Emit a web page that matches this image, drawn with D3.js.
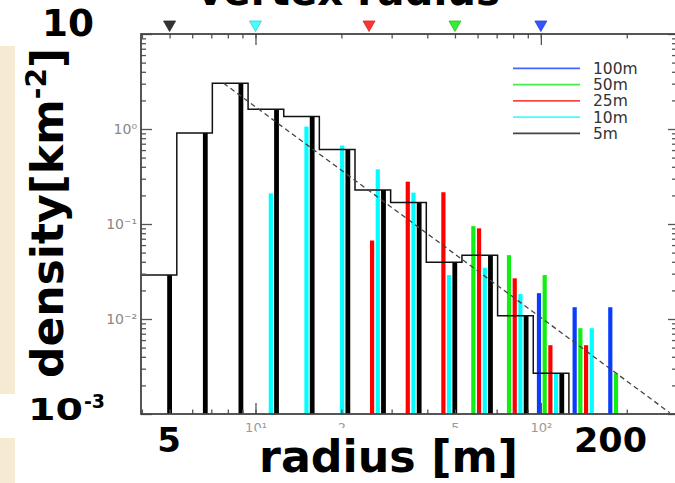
<!DOCTYPE html>
<html>
<head>
<meta charset="utf-8">
<script src="https://cdn.jsdelivr.net/npm/d3@7"></script>
<style>
  html, body { margin: 0; padding: 0; background: #fff; }
  svg { display: block; }
  text { font-family: "DejaVu Sans", sans-serif; }
</style>
</head>
<body>
<script>
// ---------------- DATA ----------------
const radii        = [5.00, 6.67, 8.89, 11.85, 15.80, 21.07, 28.09, 37.46, 49.94, 66.59, 88.79, 118.4, 157.9, 210.5];
const binEdges     = [3.97, 5.30, 7.06, 9.42, 12.56, 16.74, 22.32, 29.76, 39.68, 52.91, 70.54, 94.06, 125.4];
const density5m    = [0.029, 0.91, 3.03, 1.61, 1.35, 0.61, 0.228, 0.168, 0.0395, 0.047, 0.0108, 0.00268, null, null];
const density10m   = [null, null, null, 0.21, 1.06, 0.67, 0.376, 0.214, 0.029, 0.0347, 0.0183, 0.00268, 0.008, null];
const density25m   = [null, null, null, null, null, null, 0.067, 0.279, 0.216, 0.09, 0.0268, 0.0053, 0.0053, null];
const density50m   = [null, null, null, null, null, null, null, null, null, 0.095, 0.047, 0.029, 0.008, 0.00268];
const density100m  = [null, null, null, null, null, null, null, null, null, null, null, 0.0187, 0.0133, 0.0133];
const fitRadius    = [7.73, 283];
const fitDensity   = [3.03, 0.00103];
const seriesNames  = ["100m", "50m", "25m", "10m", "5m"];
const markerRadius = [100, 50, 25, 10, 5];
const xTickValues  = [10, 20, 50, 100];
const xTickLabels  = ["10¹", "2", "5", "10²"];
const yTickValues  = [1, 0.1, 0.01];
const yTickLabels  = ["10⁰", "10⁻¹", "10⁻²"];

// ---------------- STYLE ----------------
const W = 675, H = 483;
const seriesColor = {"100m": "#0a3cff", "50m": "#11ee11", "25m": "#ff0000", "10m": "#00ffff", "5m": "#000000"};
const legendColor = {"100m": "#4466ff", "50m": "#44ee44", "25m": "#ff4444", "10m": "#44ffff", "5m": "#444444"};
const markerColor = {"100m": "#3355ff", "50m": "#33ee33", "25m": "#ff3333", "10m": "#44ffff", "5m": "#333333"};
const seriesOffset = {"5m": 0, "10m": -5.7, "25m": -11.4, "50m": -17.1, "100m": -22.8};
const seriesWidth = {"5m": 4.8, "10m": 4.2, "25m": 4.2, "50m": 4.2, "100m": 4.2};

const svg = d3.select("body").append("svg").attr("width", W).attr("height", H);

const x = d3.scaleLog().domain([3.97, 300]).range([141, 677]);
const y = d3.scaleLog().domain([1e-3, 10]).range([414, 34]);
const [x0, x1] = x.range(), [y0, y1] = y.range();

// beige slide fragments on left edge
svg.append("rect").attr("x", 0).attr("y", 46).attr("width", 15).attr("height", 348).attr("fill", "#f6ead3");
svg.append("rect").attr("x", 0).attr("y", 438).attr("width", 15).attr("height", 45).attr("fill", "#f6ead3");

// clip
svg.append("clipPath").attr("id", "plotclip").append("rect")
  .attr("x", x0).attr("y", y1).attr("width", x1 - x0).attr("height", y0 - y1);
const plot = svg.append("g").attr("clip-path", "url(#plotclip)");

// bars
const seriesData = {"5m": density5m, "10m": density10m, "25m": density25m, "50m": density50m, "100m": density100m};
["5m", "10m", "25m", "50m", "100m"].forEach(name => {
  const vals = seriesData[name];
  const pts = radii.map((r, i) => ({r, v: vals[i]})).filter(d => d.v != null);
  plot.append("g").selectAll("rect").data(pts).join("rect")
    .attr("x", d => x(d.r) + seriesOffset[name] - seriesWidth[name] / 2)
    .attr("width", seriesWidth[name])
    .attr("y", d => y(d.v))
    .attr("height", d => y0 - y(d.v))
    .attr("fill", seriesColor[name]);
});

// step outline of the 5m histogram
const stepPts = [];
density5m.forEach((v, i) => {
  if (v == null || i >= binEdges.length - 1) return;
  stepPts.push([x(binEdges[i]), y(v)]);
  stepPts.push([x(binEdges[i + 1]), y(v)]);
});
const lastEdge = stepPts[stepPts.length - 1][0];
stepPts.push([lastEdge, y0]);
plot.append("path")
  .attr("d", d3.line()(stepPts))
  .attr("fill", "none").attr("stroke", "#111").attr("stroke-width", 1.5);

// dashed power-law fit
plot.append("path")
  .attr("d", d3.line()(fitRadius.map((r, i) => [x(r), y(fitDensity[i])])))
  .attr("fill", "none").attr("stroke", "#444").attr("stroke-width", 1.3)
  .attr("stroke-dasharray", "5,3.5");

// ---------------- AXES ----------------
const xMinor = [], yMinor = [];
[1, 10, 100].forEach(d => { for (let k = 1; k <= 9; k++) { const v = d * k; if (v >= 4 && v <= 300) xMinor.push(v); } });
[1e-3, 1e-2, 1e-1, 1, 10].forEach(d => { for (let k = 2; k <= 9; k++) { const v = d * k; if (v < 10) yMinor.push(v); } });
const xMajor = [10, 100], yMajor = [1e-3, 1e-2, 1e-1, 1, 10];

function tickGroup(axis, transform) {
  const g = svg.append("g").attr("transform", transform).call(axis);
  g.select(".domain").remove();
  g.selectAll(".tick line").attr("stroke", "#555").attr("stroke-width", 1.3);
  g.selectAll(".tick text").remove();
  return g;
}
tickGroup(d3.axisBottom(x).tickValues(xMajor).tickSize(11), `translate(0,${y1})`);
tickGroup(d3.axisBottom(x).tickValues(xMinor).tickSize(4.5), `translate(0,${y1})`);
tickGroup(d3.axisTop(x).tickValues(xMajor).tickSize(11), `translate(0,${y0})`);
tickGroup(d3.axisTop(x).tickValues(xMinor).tickSize(4.5), `translate(0,${y0})`);
tickGroup(d3.axisRight(y).tickValues(yMajor).tickSize(11), `translate(${x0},0)`);
tickGroup(d3.axisRight(y).tickValues(yMinor).tickSize(5), `translate(${x0},0)`);
tickGroup(d3.axisLeft(y).tickValues(yMajor).tickSize(9), `translate(${x1},0)`);
tickGroup(d3.axisLeft(y).tickValues(yMinor).tickSize(5), `translate(${x1},0)`);

// frame
svg.append("rect").attr("x", x0).attr("y", y1).attr("width", x1 - x0).attr("height", y0 - y1)
  .attr("fill", "none").attr("stroke", "#444").attr("stroke-width", 1.8);

// small tick labels
const yl = svg.append("g").attr("transform", `translate(${x0},0)`)
  .call(d3.axisLeft(y).tickValues(yTickValues).tickSize(0).tickPadding(4)
    .tickFormat((d, i) => yTickLabels[i]));
yl.select(".domain").remove();
yl.selectAll("text").attr("font-size", 14).attr("fill", "#888").attr("font-family", "DejaVu Sans");

const xl = svg.append("g").attr("transform", `translate(0,${y0})`)
  .call(d3.axisBottom(x).tickValues(xTickValues).tickSize(0).tickPadding(9)
    .tickFormat((d, i) => xTickLabels[i]));
xl.select(".domain").remove();
xl.selectAll("text").attr("font-size", 13).attr("fill", "#999").attr("font-family", "DejaVu Sans");

// top markers (triangles)
svg.append("g").selectAll("path").data(markerRadius).join("path")
  .attr("d", r => { const cx = x(r); return `M${cx - 6},21 L${cx + 6},21 L${cx},31.5 Z`; })
  .attr("fill", (r, i) => markerColor[seriesNames[i]])
  .attr("stroke", (r, i) => d3.color(markerColor[seriesNames[i]]).darker(0.6))
  .attr("stroke-width", 0.8);

// legend
const lg = svg.append("g");
seriesNames.forEach((name, i) => {
  const yy = 68.3 + i * 16.25;
  lg.append("line").attr("x1", 513).attr("x2", 580).attr("y1", yy).attr("y2", yy)
    .attr("stroke", legendColor[name]).attr("stroke-width", 1.8);
  lg.append("text").attr("x", 593).attr("y", yy).attr("dy", "0.36em")
    .attr("font-size", 15.5).attr("fill", "#333").text(name);
});

// ---------------- BIG OVERLAY LABELS ----------------
svg.append("rect").attr("x", 257).attr("y", 428).attr("width", 263).attr("height", 55).attr("fill", "#fff");

svg.append("text").attr("x", 197).attr("y", 5).attr("font-size", 40).attr("font-weight", "bold")
  .attr("textLength", 303).attr("lengthAdjust", "spacingAndGlyphs").text("vertex radius");

svg.append("text").attr("x", 42).attr("y", 36).attr("font-size", 38).attr("font-weight", "bold")
  .attr("textLength", 52).attr("lengthAdjust", "spacingAndGlyphs").text("10");

svg.append("text").attr("x", 28).attr("y", 420).attr("font-size", 31).attr("font-weight", "bold")
  .attr("textLength", 55).attr("lengthAdjust", "spacingAndGlyphs").text("10");
svg.append("text").attr("x", 84).attr("y", 408).attr("font-size", 20).attr("font-weight", "bold")
  .attr("textLength", 21).attr("lengthAdjust", "spacingAndGlyphs").text("-3");

svg.append("text").attr("x", 169).attr("y", 452).attr("font-size", 34).attr("font-weight", "bold")
  .attr("text-anchor", "middle").text("5");
svg.append("text").attr("x", 574).attr("y", 452).attr("font-size", 34).attr("font-weight", "bold")
  .attr("textLength", 73).attr("lengthAdjust", "spacingAndGlyphs").text("200");

svg.append("text").attr("x", 259).attr("y", 472).attr("font-size", 44).attr("font-weight", "bold")
  .attr("textLength", 259).attr("lengthAdjust", "spacingAndGlyphs").text("radius [m]");

const yt = svg.append("text").attr("transform", "translate(63,378) rotate(-90)")
  .attr("font-size", 44).attr("font-weight", "bold");
yt.append("tspan").text("density[km");
yt.append("tspan").attr("font-size", 28).attr("dy", -17).text("-2");
yt.append("tspan").attr("dy", 17).text("]");
</script>
</body>
</html>
